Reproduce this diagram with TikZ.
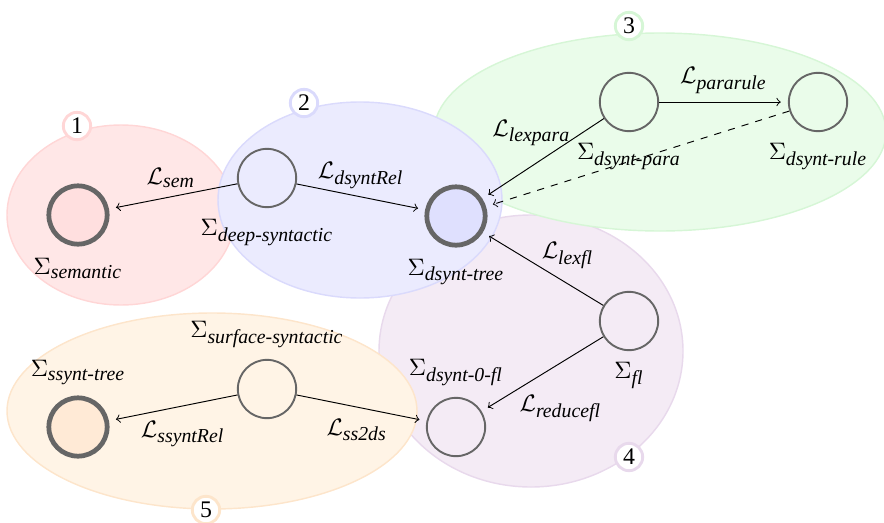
\documentclass[tikz,border=0pt]{standalone}
\usepackage{fontspec}
\setmainfont{Liberation Serif}
\newcommand{\Sg}[1]{$\Sigma_{\mbox{\fontsize{8.3}{9}\selectfont\itshape #1}}$}
\newcommand{\Lg}[1]{$\mathcal{L}_{\mbox{\fontsize{8.3}{9}\selectfont\itshape #1}}$}
\definecolor{redF}{HTML}{FFE7E7}
\definecolor{redB}{HTML}{FFD6D6}
\definecolor{bluF}{HTML}{EBEBFE}
\definecolor{bluB}{HTML}{DADAFC}
\definecolor{grnF}{HTML}{EAFCEA}
\definecolor{grnB}{HTML}{D6F6D6}
\definecolor{purF}{HTML}{F4EBF5}
\definecolor{purB}{HTML}{E8D9EC}
\definecolor{oraF}{HTML}{FFF4E6}
\definecolor{oraB}{HTML}{FDE5CB}
\definecolor{semF}{HTML}{FFDFDF}
\definecolor{treeF}{HTML}{DFE0FE}
\definecolor{ssF}{HTML}{FFEAD6}
\begin{document}
\begin{tikzpicture}[x=0.42pt, y=-0.42pt, >=to,
  st/.style={circle, draw=black!60, line width=0.8pt, minimum size=24.5pt, inner sep=0pt},
  fin/.style={st, line width=2pt},
  num/.style={circle, fill=white, line width=1.2pt, minimum size=11.5pt, inner sep=0.5pt},
  every label/.style={inner sep=1pt}, label distance=3.5pt,
  reg/.style={line width=0.6pt},
  ar/.style={->, shorten >=3pt}]
  \useasboundingbox (0,0) rectangle (884,522);
  % regions
  \draw[reg, draw=redB, fill=redF] (121,215) ellipse [x radius=114, y radius=90];
  \draw[reg, draw=purB, fill=purF] (531,351) ellipse [x radius=152, y radius=136];
  \draw[reg, draw=grnB, fill=grnF] (660,132) ellipse [x radius=226, y radius=99];
  \draw[reg, draw=oraB, fill=oraF] (212,411) ellipse [x radius=205, y radius=98];
  \draw[reg, draw=bluB, fill=bluF] (360,200) ellipse [x radius=142, y radius=98];
  % region numbers
  \node[num, draw=redB] (n1) at (77,126) {1};
  \node[num, draw=bluB] (n2) at (304,103) {2};
  \node[num, draw=grnB] (n3) at (629,26) {3};
  \node[num, draw=purB] (n4) at (629,457) {4};
  \node[num, draw=oraB] (n5) at (206,510) {5};
  % structures
  \node[fin, fill=semF, label={below:\Sg{semantic}}] (sem) at (78,215) {};
  \node[st, label={below:\Sg{deep-syntactic}}] (deep) at (267,178) {};
  \node[fin, fill=treeF, label={below:\Sg{dsynt-tree}}] (tree) at (456,216) {};
  \node[st, label={below:\Sg{dsynt-para}}] (para) at (629,102) {};
  \node[st, label={below:\Sg{dsynt-rule}}] (rule) at (818,102) {};
  \node[st, label={below:\Sg{fl}}] (fl) at (629,321) {};
  \node[st, label={above:\Sg{dsynt-0-fl}}] (zfl) at (456,427) {};
  \node[st, label={above:\Sg{surface-syntactic}}] (surf) at (267,389) {};
  \node[fin, fill=ssF, label={above:\Sg{ssynt-tree}}] (ssynt) at (78,427) {};
  % mappings
  \draw[ar] (deep) -- node[above, xshift=-1pt]{\Lg{sem}} (sem);
  \draw[ar] (deep) -- node[above]{\Lg{dsyntRel}} (tree);
  \draw[ar] (para) -- node[above left, pos=0.35, inner sep=1pt, xshift=5pt, yshift=-1pt]{\Lg{lexpara}} (tree);
  \draw[ar] (para) -- node[above]{\Lg{pararule}} (rule);
  \draw[ar, dashed] (rule) -- (tree);
  \draw[ar] (fl) -- node[right, pos=0.68, xshift=5pt]{\Lg{lexfl}} (tree);
  \draw[ar] (fl) -- node[below right, pos=0.8, inner sep=0.5pt, xshift=5pt, yshift=1pt]{\Lg{reducefl}} (zfl);
  \draw[ar] (surf) -- node[below, xshift=4pt, yshift=-2pt]{\Lg{ssyntRel}} (ssynt);
  \draw[ar] (surf) -- node[below, xshift=-2pt, yshift=-1pt]{\Lg{ss2ds}} (zfl);
\end{tikzpicture}
\end{document}
